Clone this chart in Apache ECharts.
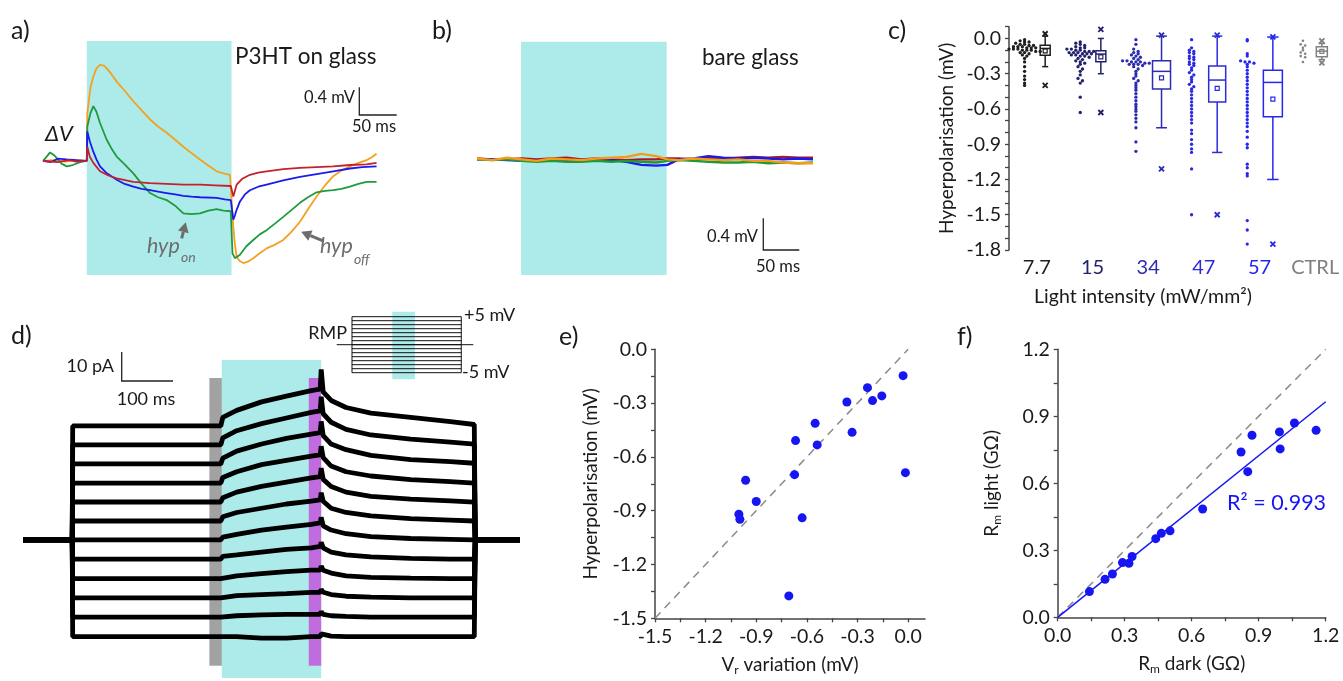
<!DOCTYPE html>
<html>
<head>
<meta charset="utf-8">
<script src="https://cdn.jsdelivr.net/npm/echarts@6/dist/echarts.min.js"></script>
<style>
html,body{margin:0;padding:0;background:#fff;}
#chart{width:1343px;height:681px;}
</style>
</head>
<body>
<div id="chart"></div>
<script>
// ---------------- DATA ----------------
// Panel a: membrane potential traces, [time ms, ΔV mV]
const aOrange = [[0,0],[15,0.01],[30,-0.01],[45,0.01],[59,0],[59.7,0.68],[64,1.05],[67.8,1.2],[72,1.32],[76.8,1.37],[82,1.36],[85.8,1.32],[92,1.24],[99.3,1.13],[110,1.0],[121.7,0.85],[133,0.72],[144.2,0.59],[155,0.49],[166.6,0.40],[178,0.30],[189.1,0.20],[200,0.11],[211.5,0.02],[223,-0.07],[234,-0.15],[243,-0.18],[251.9,-0.20],[254.2,-0.22],[256.4,-0.94],[258.6,-1.2],[260.9,-1.37],[265,-1.43],[269.9,-1.46],[276,-1.44],[283.3,-1.39],[292,-1.32],[301.3,-1.25],[312,-1.2],[323.7,-1.13],[335,-1.01],[346.2,-0.87],[357,-0.69],[368.6,-0.51],[380,-0.35],[391.1,-0.22],[402,-0.14],[413.5,-0.08],[425,-0.03],[436,0.01],[443,0.05],[449.4,0.10]];
const aGreen = [[0,0],[5,0.06],[9.5,0.12],[15,0.08],[20,0.02],[25,-0.04],[31.9,-0.08],[40,-0.06],[50,-0.02],[59,0],[59.7,0.49],[64,0.68],[67.8,0.78],[72,0.7],[76.8,0.54],[85.8,0.30],[92,0.18],[99.3,0.06],[110,-0.05],[121.7,-0.18],[133,-0.33],[144.2,-0.46],[155,-0.52],[166.6,-0.56],[178,-0.64],[189.1,-0.75],[200,-0.76],[211.5,-0.75],[223,-0.71],[234,-0.69],[243,-0.71],[253,-0.72],[255.3,-1.32],[258.6,-1.39],[265.4,-1.34],[274,-1.22],[283.3,-1.13],[292,-1.05],[301.3,-0.99],[312,-0.9],[323.7,-0.80],[335,-0.70],[346.2,-0.60],[357,-0.52],[368.6,-0.45],[380,-0.43],[391.1,-0.42],[402,-0.40],[413.5,-0.37],[425,-0.33],[436,-0.30],[449.4,-0.30]];
const aBlue = [[0,0],[10,-0.02],[20,0.03],[31.9,0.02],[45,0.01],[59,0],[59.7,0.42],[63,0.28],[67.8,0.13],[72,0.02],[76.8,-0.08],[85,-0.17],[99.3,-0.27],[110,-0.33],[121.7,-0.37],[133,-0.40],[144.2,-0.42],[155,-0.44],[166.6,-0.46],[178,-0.48],[189.1,-0.50],[200,-0.51],[211.5,-0.52],[234,-0.53],[245,-0.55],[253,-0.56],[256.4,-0.84],[258.5,-0.78],[260.9,-0.70],[265.4,-0.58],[272,-0.48],[278.8,-0.42],[290,-0.37],[301.3,-0.34],[323.7,-0.28],[346.2,-0.23],[368.6,-0.19],[391.1,-0.15],[413.5,-0.11],[430,-0.09],[449.4,-0.08]];
const aRed = [[0,0],[10,-0.01],[20,-0.02],[35,0.01],[45,-0.01],[59,0],[59.7,0.20],[63,0.06],[67.8,-0.03],[76.8,-0.15],[88,-0.21],[99.3,-0.25],[121.7,-0.30],[144,-0.32],[166.6,-0.33],[189,-0.34],[211.5,-0.34],[232,-0.35],[253,-0.36],[256.4,-0.51],[258.5,-0.43],[260.9,-0.34],[268,-0.26],[278.8,-0.20],[290,-0.17],[301.3,-0.15],[323.7,-0.12],[346.2,-0.10],[368.6,-0.09],[391.1,-0.08],[413.5,-0.06],[436,-0.05],[449.4,-0.03]];
const lightPulse = [59, 254];           // ms, panels a and b

// Panel b: bare glass traces
const bTime   = [0,20,40,60,80,100,120,140,160,180,200,220,240,255,270,290,310,330,350,370,390,410,430,450];
const bOrange = [0.01,-0.01,0.02,0.0,-0.02,0.01,0.0,-0.01,0.01,0.02,0.03,0.07,0.04,0.0,-0.01,0.01,0.0,-0.01,0.0,-0.02,-0.02,-0.04,-0.05,-0.05];
const bBlue   = [0.0,0.0,-0.01,-0.02,-0.02,0.0,-0.01,-0.02,-0.02,-0.01,-0.03,-0.07,-0.08,-0.07,0.0,0.01,0.04,0.02,0.01,0.02,0.01,0.0,0.01,0.0];
const bGreen  = [0.0,-0.01,0.0,-0.02,-0.03,-0.02,-0.03,-0.03,-0.02,-0.03,-0.02,-0.03,-0.04,-0.02,-0.01,-0.02,-0.03,-0.04,-0.04,-0.03,-0.05,-0.04,-0.05,-0.04];
const bRed    = [0.01,0.0,0.0,0.01,0.0,0.01,0.02,0.0,0.01,0.0,-0.01,0.0,0.0,0.01,0.01,0.0,0.02,0.01,0.02,0.03,0.02,0.03,0.02,0.02];

// Panel c: hyperpolarisation vs light intensity
const cCategories = ['7.7','15','34','47','57','CTRL'];
const cQ1        = [-0.142,-0.198,-0.43,-0.54,-0.666,-0.156];
const cMedian    = [-0.085,-0.133,-0.28,-0.354,-0.374,-0.108];
const cQ3        = [-0.057,-0.105,-0.19,-0.235,-0.27,-0.07];
const cWhiskLow  = [-0.24,-0.30,-0.76,-0.97,-1.20,-0.18];
const cWhiskHigh = [0.02,0.0,0.02,0.02,0.012,-0.043];
const cMean      = [-0.105,-0.156,-0.335,-0.425,-0.516,-0.11];
const cMin       = [-0.40,-0.63,-1.11,-1.50,-1.75,-0.207];
const cMax       = [0.04,0.077,0.028,0.028,0.014,-0.02];
const cDots77 = [-0.01,-0.02,-0.03,-0.03,-0.04,-0.05,-0.05,-0.06,-0.06,-0.07,-0.07,-0.07,-0.08,-0.08,-0.08,-0.09,-0.09,-0.09,-0.10,-0.10,-0.10,-0.11,-0.11,-0.12,-0.12,-0.13,-0.14,-0.15,-0.17,-0.20,-0.24,-0.28,-0.32,-0.35,-0.38,-0.40];
const cDots15 = [-0.03,-0.04,-0.05,-0.06,-0.07,-0.08,-0.08,-0.09,-0.09,-0.10,-0.10,-0.11,-0.11,-0.11,-0.12,-0.12,-0.12,-0.13,-0.13,-0.13,-0.14,-0.14,-0.15,-0.15,-0.16,-0.17,-0.18,-0.19,-0.20,-0.21,-0.22,-0.24,-0.26,-0.28,-0.31,-0.34,-0.36,-0.38,-0.50,-0.63];
const cDots34 = [-0.01,-0.05,-0.09,-0.11,-0.12,-0.13,-0.14,-0.15,-0.16,-0.17,-0.18,-0.19,-0.19,-0.20,-0.20,-0.20,-0.21,-0.21,-0.22,-0.22,-0.22,-0.23,-0.24,-0.26,-0.28,-0.30,-0.32,-0.34,-0.36,-0.38,-0.40,-0.42,-0.44,-0.47,-0.50,-0.53,-0.56,-0.58,-0.60,-0.62,-0.65,-0.68,-0.71,-0.76,-0.88,-0.96];
const cDots47 = [-0.01,-0.08,-0.10,-0.11,-0.12,-0.13,-0.15,-0.16,-0.17,-0.18,-0.20,-0.21,-0.22,-0.23,-0.25,-0.27,-0.29,-0.31,-0.33,-0.35,-0.37,-0.39,-0.41,-0.43,-0.45,-0.48,-0.51,-0.54,-0.57,-0.60,-0.63,-0.66,-0.69,-0.72,-0.78,-0.81,-0.86,-0.90,-0.94,-0.97,-1.11,-1.50];
const cDots57 = [-0.01,-0.02,-0.13,-0.15,-0.19,-0.20,-0.20,-0.21,-0.22,-0.24,-0.27,-0.30,-0.33,-0.36,-0.39,-0.42,-0.45,-0.48,-0.51,-0.54,-0.57,-0.60,-0.63,-0.66,-0.69,-0.72,-0.75,-0.79,-0.84,-0.90,-0.93,-1.07,-1.10,-1.15,-1.17,-1.55,-1.63,-1.75];
const cDotsCtrl = [-0.02,-0.05,-0.06,-0.08,-0.10,-0.12,-0.13,-0.15,-0.16,-0.20];
const cTickLabels = [-1.8,-1.5,-1.2,-0.9,-0.6,-0.3,0.0];
const cTicks = [-1.8,-1.7,-1.6,-1.5,-1.4,-1.3,-1.2,-1.1,-1.0,-0.9,-0.8,-0.7,-0.6,-0.5,-0.4,-0.3,-0.2,-0.1,0.0,0.1];

// Panel d: voltage-clamp current traces (pA), shared time base (ms)
const dTime   = [0,99,100,398,402,430,480,530,580,598,600,604,620,650,700,780,860,908,910,1000];
const dLevels = [40.3,33.6,26.9,20.1,13.4,6.7,0,-6.8,-13.7,-20.5,-27.3,-34.2];
// light-evoked deviation from each level, at dTime[3..17]
const dDev = [
  [0,3,5.5,8.5,10.5,12.5,13,20,12,9,6.5,4.5,3,1.5,0.5],
  [0,2.5,5,7.5,9.5,11.5,12,17,11,8,5.5,3.5,2,1,0.3],
  [0,2,4.5,7,9,10.5,11,15,10,7,5,3,1.5,0.8,0.2],
  [0,2,4,6.5,8,9.5,10,13,9,6,4,2.5,1.2,0.5,0],
  [0,1.5,3.5,5.5,7,8.5,9,12,8,5.5,3.5,2,1,0.4,0],
  [0,1.5,3,4.5,6,7,7.5,10,7,4.5,3,1.8,0.8,0.3,0],
  [0,1,2,3.5,4.5,5.5,6,8,5,3.5,2.2,1.2,0.5,0.2,0],
  [0,1,1.5,2.5,3.5,4,4.5,6,4,2.5,1.5,0.8,0.3,0,0],
  [0,0.5,1,1.8,2.5,3,3,4.5,3,2,1,0.5,0.2,0,0],
  [0,0.5,0.8,1.2,1.5,2,2,3,2,1.2,0.6,0.3,0,0,0],
  [0,0.2,0.5,0.8,1,1,1,2,1,0.5,0.3,0,0,0,0],
  [0,0,0,-0.5,-0.5,0,0,1,0.5,0.2,0,0,0,0,0]
];
const dLight   = [400, 600];
const dPreWin  = [375, 400];
const dPostWin = [575, 600];
const insetLevels = [7,6,5,4,3,2,1,0,-1,-2,-3,-4,-5,-6,-7];

// Panel e: Vr variation vs hyperpolarisation
const eVr  = [-0.03,-0.241,-0.211,-0.156,-0.363,-0.332,-0.551,-0.539,-0.667,-0.673,-0.016,-0.963,-0.900,-1.003,-0.997,-0.628,-0.707];
const eHyp = [-0.147,-0.214,-0.286,-0.260,-0.294,-0.463,-0.413,-0.533,-0.509,-0.699,-0.688,-0.730,-0.849,-0.920,-0.948,-0.940,-1.375];
const eTickLabels = [-1.5,-1.2,-0.9,-0.6,-0.3,0.0];
const eTicks = [-1.5,-1.35,-1.2,-1.05,-0.9,-0.75,-0.6,-0.45,-0.3,-0.15,0.0];

// Panel f: membrane resistance dark vs light
const fDark  = [0.142,0.212,0.245,0.290,0.319,0.333,0.439,0.464,0.503,0.649,0.821,0.851,0.870,0.993,0.996,1.060,1.157];
const fLight = [0.115,0.170,0.194,0.245,0.242,0.272,0.352,0.376,0.387,0.485,0.740,0.652,0.815,0.830,0.754,0.870,0.837];
const fTickLabels = [0.0,0.3,0.6,0.9,1.2];
const fTicks = [0,0.15,0.3,0.45,0.6,0.75,0.9,1.05,1.2];
const fR2 = '0.993';

// ---------------- STYLE / LAYOUT ----------------
const FONT = 'Lato, "Open Sans", sans-serif';
const TXT = '#1a1a1a';
const CYAN = '#adebeb';
const BLUE = '#1616f2';
const catColors = ['#1e1e1e','#22226c','#2c2cae','#2b2bdc','#2626f0','#808080'];
const boxOffset = [0.15,0.15,0.24,0.24,0.24,0.12];
const boxPx = [10,10,18,17,19,11];
const dotOffset = -0.22;
const TICKFS = 19.5;

function fmt(v){ return Math.abs(v) < 1e-9 ? '0.0' : v.toFixed(1); }

function swarm(vals, center, binW, step){
  const groups = {};
  vals.forEach(v => { const k = Math.round(v / binW); (groups[k] = groups[k] || []).push(v); });
  const out = [];
  Object.keys(groups).forEach(k => {
    const g = groups[k], n = g.length;
    g.forEach((v, i) => out.push([center + (i - (n - 1) / 2) * step, v]));
  });
  return out;
}

function zip(xs, ys){ return xs.map((x, i) => [x, ys[i]]); }

const chart = echarts.init(document.getElementById('chart'), null, {renderer:'canvas'});

const grids = [
  {left:43, top:41, width:334, height:234},        // 0 a
  {left:477, top:41.7, width:336, height:233.3},    // 1 b
  {left:1009, top:26.7, width:334, height:223.3},   // 2 c
  {left:23, top:360, width:497, height:318},        // 3 d
  {left:655, top:349.3, width:270, height:269},     // 4 e
  {left:1057.7, top:349.3, width:268, height:268},  // 5 f
  {left:336.7, top:311.7, width:136.6, height:67.6} // 6 inset
];

function hiddenAxis(grid, min, max){
  return {gridIndex:grid, type:'value', min:min, max:max, show:false, splitLine:{show:false}};
}

function sciAxis(grid, min, max, ticks, labels, name, isY, gap){
  return {
    gridIndex:grid, type:'value', min:min, max:max,
    axisLine:{show:true, onZero:false, lineStyle:{color:'#444', width:1.5}},
    axisTick:{show:true, inside:false, length:4, lineStyle:{color:'#444', width:1.3}, customValues:ticks},
    axisLabel:{show:true, customValues:labels, formatter:fmt, fontSize:TICKFS, color:TXT, fontFamily:FONT, margin:8},
    splitLine:{show:false},
    name:name, nameLocation:'middle', nameGap:gap, nameRotate: isY ? 90 : 0,
    nameTextStyle:{fontSize:19, color:TXT, fontFamily:FONT,
      rich:{n:{fontSize:19, color:TXT, fontFamily:FONT}, s:{fontSize:12, color:TXT, fontFamily:FONT, verticalAlign:'bottom', padding:[10,0,0,0]}}}
  };
}

const xAxes = [
  hiddenAxis(0, 0, 450),
  hiddenAxis(1, 0, 450),
  {gridIndex:2, type:'category', data:cCategories, boundaryGap:true,
   axisLine:{show:false}, axisTick:{show:false}, splitLine:{show:false},
   axisLabel:{interval:0, fontSize:20, fontFamily:FONT, margin:8, color:(v, i) => catColors[cCategories.indexOf(v)]}},
  hiddenAxis(2, -0.5, 5.5),
  hiddenAxis(3, 0, 1000),
  sciAxis(4, -1.5, 0.1, eTicks, eTickLabels, '{n|V}{s|r}{n| variation (mV)}', false, 36),
  sciAxis(5, 0, 1.2, fTicks, fTickLabels, '{n|R}{s|m}{n| dark (GΩ)}', false, 36),
  hiddenAxis(6, -0.14, 1.11)
];
const yAxes = [
  hiddenAxis(0, -1.63, 1.71),
  hiddenAxis(1, -1.465, 1.49),
  sciAxis(2, -1.8, 0.1, cTicks, cTickLabels, 'Hyperpolarisation (mV)', true, 53),
  hiddenAxis(3, -48.8, 63.6),
  sciAxis(4, -1.5, 0, eTicks, eTickLabels, 'Hyperpolarisation (mV)', true, 55),
  sciAxis(5, 0, 1.2, fTicks, fTickLabels, '{n|R}{s|m}{n| light (GΩ)}', true, 55),
  hiddenAxis(6, -8.65, 8.25)
];

const series = [];
function bgArea(xi, yi, x0, x1, color, z){
  series.push({type:'line', xAxisIndex:xi, yAxisIndex:yi, data:[], z:z, silent:true,
    markArea:{silent:true, itemStyle:{color:color}, data:[[{xAxis:x0},{xAxis:x1}]]}});
}
function trace(xi, yi, data, color, w, z){
  series.push({type:'line', xAxisIndex:xi, yAxisIndex:yi, data:data, showSymbol:false, symbol:'none',
    lineStyle:{color:color, width:w}, z:z||3, silent:true});
}

// a
bgArea(0, 0, lightPulse[0], lightPulse[1], CYAN, 1);
trace(0, 0, aOrange, '#f5a01f', 1.8);
trace(0, 0, aGreen, '#1f9a3e', 1.8);
trace(0, 0, aBlue, '#1a1aee', 1.8);
trace(0, 0, aRed, '#c4202e', 1.8);

// b
bgArea(1, 1, lightPulse[0], lightPulse[1], CYAN, 1);
trace(1, 1, zip(bTime, bRed), '#a8172a', 2.4);
trace(1, 1, zip(bTime, bBlue), '#1a1aee', 2.4);
trace(1, 1, zip(bTime, bGreen), '#229933', 2.4);
trace(1, 1, zip(bTime, bOrange), '#f39c1a', 2.4);

// c dots
[cDots77, cDots15, cDots34, cDots47, cDots57, cDotsCtrl].forEach((vals, i) => {
  series.push({type:'scatter', xAxisIndex:3, yAxisIndex:2, data:swarm(vals, i + dotOffset, 0.025, 0.08),
    symbol:'circle', symbolSize: i === 5 ? 2.6 : 3.3, itemStyle:{color:catColors[i], opacity:1}, silent:true, z:3});
});
// c boxes
const cBoxData = cCategories.map((c, i) => [i + boxOffset[i], cWhiskLow[i], cQ1[i], cMedian[i], cQ3[i], cWhiskHigh[i], cMean[i], cMin[i], cMax[i]]);
series.push({
  type:'custom', xAxisIndex:3, yAxisIndex:2, data:cBoxData, silent:true, z:4,
  encode:{x:0, y:3},
  renderItem:function(params, api){
    const i = params.dataIndex;
    const col = catColors[i];
    const x = api.value(0);
    const p = k => api.coord([x, api.value(k)]);
    const w = boxPx[i];
    const lo = p(1), q1 = p(2), md = p(3), q3 = p(4), hi = p(5), mn = p(6), mi = p(7), ma = p(8);
    const cx = q1[0];
    const st = {stroke:col, lineWidth:1.5, fill:null};
    const ch = [];
    ch.push({type:'rect', shape:{x:cx - w/2, y:q3[1], width:w, height:q1[1]-q3[1]}, style:st});
    ch.push({type:'line', shape:{x1:cx - w/2, y1:md[1], x2:cx + w/2, y2:md[1]}, style:st});
    ch.push({type:'line', shape:{x1:cx, y1:q1[1], x2:cx, y2:lo[1]}, style:st});
    ch.push({type:'line', shape:{x1:cx, y1:q3[1], x2:cx, y2:hi[1]}, style:st});
    ch.push({type:'line', shape:{x1:cx - w*0.3, y1:lo[1], x2:cx + w*0.3, y2:lo[1]}, style:st});
    ch.push({type:'line', shape:{x1:cx - w*0.3, y1:hi[1], x2:cx + w*0.3, y2:hi[1]}, style:st});
    ch.push({type:'rect', shape:{x:cx - 2, y:mn[1] - 2, width:4, height:4}, style:{stroke:col, lineWidth:1.2, fill:null}});
    [mi, ma].forEach(pt => {
      ch.push({type:'line', shape:{x1:cx-2.5, y1:pt[1]-2.5, x2:cx+2.5, y2:pt[1]+2.5}, style:{stroke:col, lineWidth:1.8}});
      ch.push({type:'line', shape:{x1:cx-2.5, y1:pt[1]+2.5, x2:cx+2.5, y2:pt[1]-2.5}, style:{stroke:col, lineWidth:1.8}});
    });
    return {type:'group', children:ch};
  }
});

// d
bgArea(4, 3, dLight[0], dLight[1], CYAN, 1);
dLevels.forEach((lvl, i) => {
  const data = dTime.map((t, k) => {
    if (k < 2 || k > 17) return [t, 0];
    if (k === 2) return [t, lvl];
    return [t, lvl + dDev[i][k - 3]];
  });
  trace(4, 3, data, '#000', 4.8, 3);
});
series.push({type:'line', xAxisIndex:4, yAxisIndex:3, data:[], z:6, silent:true,
  markArea:{silent:true, data:[
    [{xAxis:dPreWin[0], yAxis:-44.5, itemStyle:{color:'rgba(100,100,100,0.6)'}},{xAxis:dPreWin[1], yAxis:57.2}],
    [{xAxis:dPostWin[0], yAxis:-44.5, itemStyle:{color:'rgba(205,30,215,0.62)'}},{xAxis:dPostWin[1], yAxis:57.2}]
  ]}});

// inset protocol
bgArea(7, 6, 0.369, 0.576, CYAN, 1);
insetLevels.forEach(l => trace(7, 6, [[0, l], [1, l]], '#111', 1, 3));
trace(7, 6, [[-0.14, 0], [1.11, 0]], '#111', 1, 3);
trace(7, 6, [[0, insetLevels[0]], [0, insetLevels[insetLevels.length-1]]], '#111', 1, 3);
trace(7, 6, [[1, insetLevels[0]], [1, insetLevels[insetLevels.length-1]]], '#111', 1, 3);

// e
series.push({type:'line', xAxisIndex:5, yAxisIndex:4, data:[[-1.5,-1.5],[0,0]], symbol:'none',
  lineStyle:{color:'#8a8a8a', width:1.5, type:[8,6]}, z:2, silent:true});
series.push({type:'scatter', xAxisIndex:5, yAxisIndex:4, data:zip(eVr, eHyp), symbolSize:9,
  itemStyle:{color:BLUE, opacity:1}, z:4, silent:true});

// f
let sxy = 0, sxx = 0;
fDark.forEach((x, i) => { sxy += x * fLight[i]; sxx += x * x; });
const fSlope = sxy / sxx;
series.push({type:'line', xAxisIndex:6, yAxisIndex:5, data:[[0,0],[1.2,1.2]], symbol:'none',
  lineStyle:{color:'#8a8a8a', width:1.5, type:[8,6]}, z:2, silent:true});
series.push({type:'line', xAxisIndex:6, yAxisIndex:5, data:[[0,0],[1.2,1.2*fSlope]], symbol:'none',
  lineStyle:{color:BLUE, width:1.5}, z:3, silent:true});
series.push({type:'scatter', xAxisIndex:6, yAxisIndex:5, data:zip(fDark, fLight), symbolSize:9,
  itemStyle:{color:BLUE, opacity:1}, z:4, silent:true});

// ---------------- ANNOTATIONS ----------------
const G = [];
function txt(x, y, s, size, opts){
  opts = opts || {};
  G.push({type:'text', x:x, y:y, z:20, silent:true, style:{
    text:s, fill:opts.color || TXT, font:(opts.italic ? 'italic ' : '') + size + 'px ' + FONT,
    align:opts.align || 'left', verticalAlign:'middle', textAlign:opts.align || 'left', textVerticalAlign:'middle'}});
}
function pline(pts, w, color){
  G.push({type:'polyline', z:20, silent:true, shape:{points:pts}, style:{stroke:color || '#222', lineWidth:w || 1.3, fill:null}});
}
function arrow(tail, tip, color){
  const dx = tip[0]-tail[0], dy = tip[1]-tail[1], L = Math.hypot(dx, dy);
  const ux = dx/L, uy = dy/L, hl = 10, hw = 5.5;
  const bx = tip[0]-ux*hl, by = tip[1]-uy*hl;
  pline([tail, [bx, by]], 3, color);
  G.push({type:'polygon', z:20, silent:true, shape:{points:[tip, [bx - uy*hw, by + ux*hw], [bx + uy*hw, by - ux*hw]]}, style:{fill:color}});
}
// panel labels
txt(11, 31, 'a)', 25); txt(432, 31, 'b)', 25); txt(888, 31, 'c)', 25);
txt(11, 336, 'd)', 25); txt(559, 337, 'e)', 25); txt(957, 337, 'f)', 25);
// a
txt(235, 57, 'P3HT on glass', 22.5);
txt(45, 134, 'ΔV', 22, {italic:true});
txt(355, 98, '0.4 mV', 16.5, {align:'right'});
txt(352, 127, '50 ms', 16.5);
pline([[359.3,87.3],[359.3,115],[396.7,115]]);
const GRAY = '#6d6d6d';
txt(147, 246, 'hyp', 21.5, {italic:true, color:GRAY});
txt(181, 257, 'on', 14, {italic:true, color:GRAY});
txt(320, 246, 'hyp', 21.5, {italic:true, color:GRAY});
txt(354, 259, 'off', 14, {italic:true, color:GRAY});
arrow([181.7,238.3],[185.7,222.2], GRAY);
arrow([323.7,241.2],[301.2,231.7], GRAY);
// b
txt(702, 58, 'bare glass', 22.5);
txt(758, 237, '0.4 mV', 16.5, {align:'right'});
txt(756, 267, '50 ms', 16.5);
pline([[763.3,218.3],[763.3,250],[799.3,250]]);
// c
txt(1143, 297, 'Light intensity (mW/mm²)', 19.5, {align:'center'});
// d
txt(114, 366, '10 pA', 18, {align:'right'});
pline([[121.7,352],[121.7,381],[173,381]]);
txt(146, 399, '100 ms', 18, {align:'center'});
txt(347, 333, 'RMP', 18, {align:'right'});
txt(464, 315, '+5 mV', 18);
txt(462, 372, '-5 mV', 18);
// f
txt(1227, 503, 'R² = ' + fR2, 21.5, {color:BLUE});

chart.setOption({
  animation:false,
  backgroundColor:'#ffffff',
  textStyle:{fontFamily:FONT},
  grid:grids,
  xAxis:xAxes,
  yAxis:yAxes,
  series:series,
  graphic:{elements:G}
});
</script>
</body>
</html>
